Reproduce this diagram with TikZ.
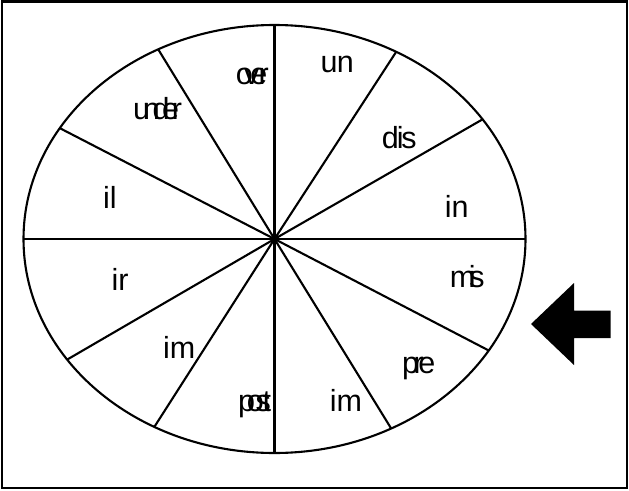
\documentclass[tikz,border=0pt]{standalone}
\usepackage{fontspec}
\setmainfont{Liberation Sans}
\tikzset{
	prefixe/.style={anchor=base west, inner sep=0pt, font=\fontsize{30.5}{30}\selectfont},
	trait/.style={line width=2.1pt}
}
\newcommand{\serre}[2]{{\addfontfeature{LetterSpace=#1}#2}}
\begin{document}
\begin{tikzpicture}[x=1pt,y=-1pt]
		\useasboundingbox (0,0) rectangle (629,490);
		% Cadre
		\draw[line width=2.2pt] (2,1.5) rectangle (627,488);
		
		% Roue
		\coordinate (c) at (274.5,239);
		\draw[trait] (c) ellipse [x radius=251, y radius=214];
		\foreach \a in {0,34,61,90,117.6,148.8,180,214.3,241.4,270,297.7,328.6}
			\draw[trait] (c) -- ++(\a:251 and -214);
		
		\node[prefixe] (over) at (235.7,84) {\serre{-29}{over}};
		\node[prefixe] (un) at (320.3,72.3) {\serre{-2}{un}};
		\node[prefixe] (under) at (133,119.3) {\serre{-24}{under}};
		\node[prefixe] (dis) at (381.7,148.3) {\serre{-7}{dis}};
		\node[prefixe] (il) at (103,208.3) {il};
		\node[prefixe] (in) at (444.7,217) {in};
		\node[prefixe] (ir) at (111.3,290) {ir};
		\node[prefixe] (mis) at (449.7,287.3) {\serre{-21}{mis}};
		\node[prefixe] (imgauche) at (163,358.3) {im};
		\node[prefixe] (pre) at (402,373.3) {\serre{-18}{pre}};
		\node[prefixe] (post) at (238,411.7) {\serre{-27}{post}};
		\node[prefixe] (imdroite) at (329.7,411.7) {im};
		
		% Fleche
		\fill (531,324) -- (574,283) -- (574,310.5) -- (610.5,310.5) -- (610.5,338) -- (574,338) -- (574,365) -- cycle;
	\end{tikzpicture}
\end{document}
